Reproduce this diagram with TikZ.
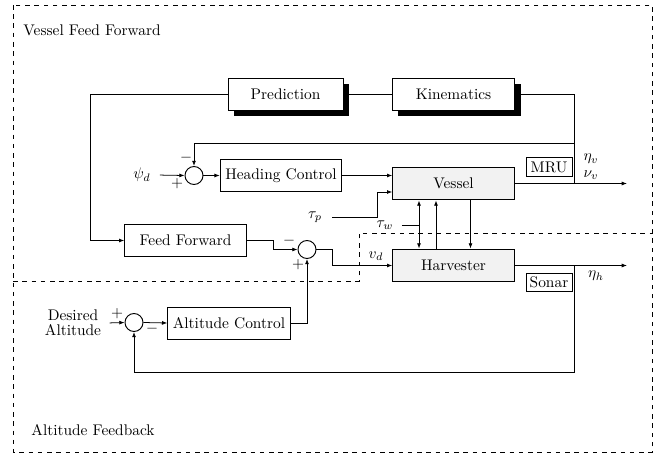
\documentclass[tikz,border=0pt]{standalone}
\usepackage{amsmath}
\usepackage{tikz}
\usetikzlibrary{calc,arrows.meta,shadows}

\tikzset{
  block/.style={draw, line width=0.6pt, minimum width=2.77cm, minimum height=0.75cm},
  shadowblock/.style={block, fill=white, drop shadow={shadow xshift=3.9pt, shadow yshift=-3.9pt, fill=black, opacity=1}},
  plant/.style={block, fill=black!5},
  sensor/.style={draw, line width=0.6pt, inner sep=1pt, minimum width=1.05cm, minimum height=0.42cm},
  sumnode/.style={draw, circle, line width=0.6pt, minimum size=0.41cm, inner sep=0pt},
  sig/.style={-{Latex[length=1.2mm,width=0.9mm]}, line width=0.5pt},
  sigboth/.style={{Latex[length=1.2mm,width=0.9mm]}-{Latex[length=1.2mm,width=0.9mm]}, line width=0.5pt},
  region/.style={dashed, line width=0.5pt}
}

\begin{document}
\begin{tikzpicture}[x=0.0228cm, y=-0.0228cm]
	\useasboundingbox (0,0) rectangle (667,457);

	% Regiones punteadas
	\draw[region] (13,5) rectangle (652,452);
	\draw[region] (13,281) -- (359,281) -- (359,233) -- (652,233);
	\node[anchor=west] (vfflabel) at (18,30) {Vessel Feed Forward};
	\node[anchor=west] (aflabel) at (26,430) {Altitude Feedback};

	% Bloques
	\node[shadowblock, minimum width=2.62cm, minimum height=0.73cm] (pred) at (285.5,94) {Prediction};
	\node[shadowblock, minimum width=2.80cm, minimum height=0.73cm] (kin) at (453.5,94) {Kinematics};
	\node[block] (hc) at (281,175.5) {Heading Control};
	\node[plant] (vessel) at (453.5,183.5) {Vessel};
	\node[plant] (harv) at (453.5,265.5) {Harvester};
	\node[block] (ff) at (185.5,240.5) {Feed Forward};
	\node[block, minimum height=0.73cm] (ac) at (229,323) {Altitude Control};
	\node[sensor] (mru) at (549,167) {MRU};
	\node[sensor] (sonar) at (549,282.5) {Sonar};

	% Sumadores y signos
	\node[sumnode] (sumh) at (194,175.5) {};
	\node[sumnode] (sumf) at (307,249.5) {};
	\node[sumnode] (suma) at (134,322.5) {};
	\node (sumhminus) at (186,158) {$-$};
	\node (sumhplus) at (177,184) {$+$};
	\node (sumfminus) at (289,241) {$-$};
	\node (sumfplus) at (298,265) {$+$};
	\node (sumaplus) at (117,314) {$+$};
	\node (sumaminus) at (152,329) {$-$};

	% Entradas y salidas
	\node (psid) at (142,175) {$\psi_d$};
	\node (taup) at (315,217) {$\tau_p$};
	\node (tauw) at (385,225) {$\tau_w$};
	\node (vd) at (376,256) {$v_d$};
	\node (etav) at (591,159) {$\eta_v$};
	\node (nuv) at (591,175) {$\nu_v$};
	\node (etah) at (596,276) {$\eta_h$};
	\node[align=center] (desalt) at (73,323) {Desired\\[-2.3pt]Altitude};

	\coordinate (vout) at (627,183.5);
	\coordinate (hout) at (627,265.5);
	\coordinate (jv) at (574,183.5);
	\coordinate (jh) at (574,265.5);
	\coordinate (fbv) at (574,143);
	\coordinate (fba) at (574,372);
	\coordinate (vin) at ($(vessel.west)+(0,8.5)$);
	\coordinate (lka) at ($(vessel.south)+(-34.5,0)$);
	\coordinate (lkb) at ($(vessel.south)+(-17.5,0)$);
	\coordinate (lkc) at ($(vessel.south)+(17,0)$);

	% Lazo de rumbo
	\draw[sig, shorten <=2.5pt] (psid.east) -- (sumh.west);
	\draw[sig] (sumh.east) -- (hc.west);
	\draw[sig] (hc.east) -- (hc.east -| vessel.west);
	\draw[sig, shorten <=3pt] (taup.east) -- ++(50,0) |- (vin);
	\draw[shorten <=2pt] (tauw.east) -- (tauw.east -| lka);
	\draw[sig] (vessel.east) -- (vout);
	\draw (kin.east) -| (jv);
	\draw[sig] (fbv) -| (sumh.north);

	% Prealimentacion
	\draw (pred.east) -- (kin.west);
	\draw[sig] (pred.west) -- ++(-137,0) |- (ff.west);
	\draw[sig] (ff.east) -- ++(27,0) |- (sumf.west);
	\draw[sig] (sumf.east) -- ++(16,0) |- (harv.west);

	% Enlaces buque - cosechadora
	\draw[sigboth] (lka) -- (lka |- harv.north);
	\draw[sig] (lkb |- harv.north) -- (lkb);
	\draw[sig] (lkc) -- (lkc |- harv.north);

	% Lazo de altitud
	\draw[sig] (harv.east) -- (hout);
	\draw[sig] (jh) -- (fba) -| (suma.south);
	\draw[sig, shorten <=2pt] (desalt.east) -- (suma.west);
	\draw[sig] (suma.east) -- (ac.west);
	\draw[sig] (ac.east) -| (sumf.south);
\end{tikzpicture}
\end{document}
